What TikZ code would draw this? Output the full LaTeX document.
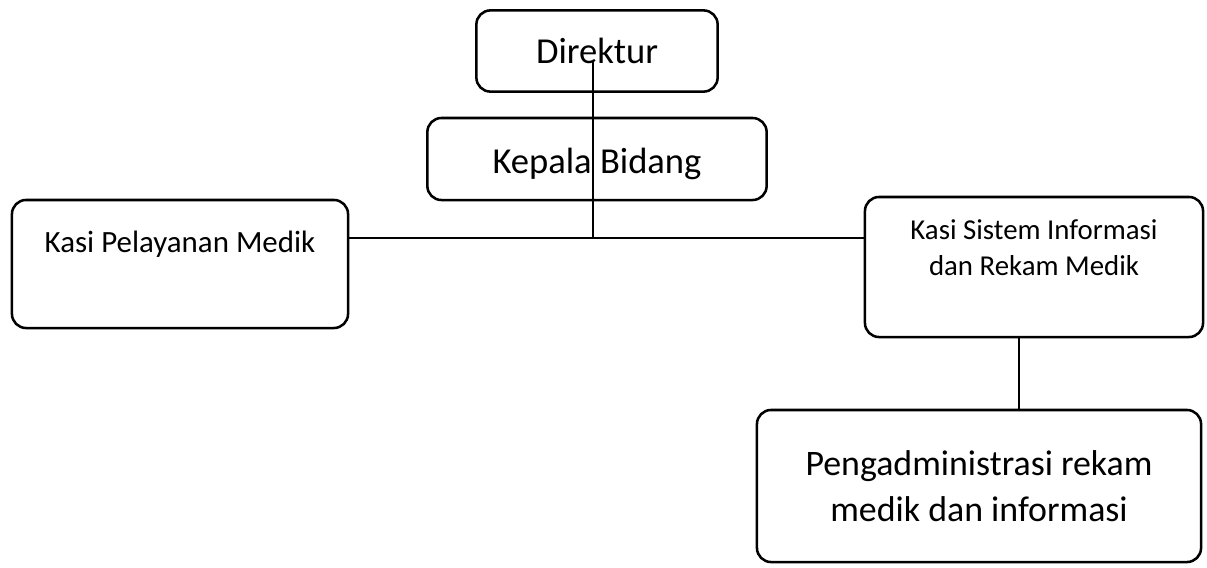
\documentclass[tikz,border=0pt]{standalone}
\usepackage{fontspec}
\setmainfont{Carlito}
\usepackage{tikz}

\begin{document}
\begin{tikzpicture}[
  x=0.025cm, y=-0.025cm,
  box/.style={rectangle, draw, line width=1.8pt, rounded corners=10pt,
    align=center, inner sep=0pt},
  big/.style={font=\fontsize{26}{30}\selectfont},
  mid/.style={font=\fontsize{20.5}{25}\selectfont},
  wide/.style={font=\fontsize{25.5}{33}\selectfont},
  link/.style={line width=0.8pt},
]
\useasboundingbox (0,0) rectangle (1207,567);

% Direktur
\node[box, big, minimum width=6.03cm, minimum height=2.03cm] (dir) at (597,51) {Direktur};

% Kepala Bidang
\node[box, big, minimum width=8.48cm, minimum height=2.05cm,
  text height=9mm, text depth=2mm] (kb) at (597,159) {Kepala Bidang};

% Kasi
\node[box, mid, font=\fontsize{22}{26}\selectfont, minimum width=8.4cm, minimum height=3.2cm,
  text height=5mm, text depth=11mm] (pel) at (180,264) {Kasi Pelayanan Medik};
\node[box, mid, minimum width=8.45cm, minimum height=3.5cm,
  text height=13.5mm, text depth=9.5mm] (sis) at (1034,267) {Kasi Sistem Informasi\\dan Rekam Medik};

% Pengadministrasi
\node[box, wide, minimum width=11.1cm, minimum height=3.8cm] (adm) at (979,486) {Pengadministrasi rekam\\medik dan informasi};

% Lines
\coordinate (top) at (593,62);
\coordinate (junc) at (593,238);
\coordinate (drop) at (1019,0);
\draw[link] (top) -- (junc);
\draw[link] (pel.east |- junc) -- (sis.west |- junc);
\draw[link] (sis.south -| drop) -- (adm.north -| drop);

\end{tikzpicture}
\end{document}
